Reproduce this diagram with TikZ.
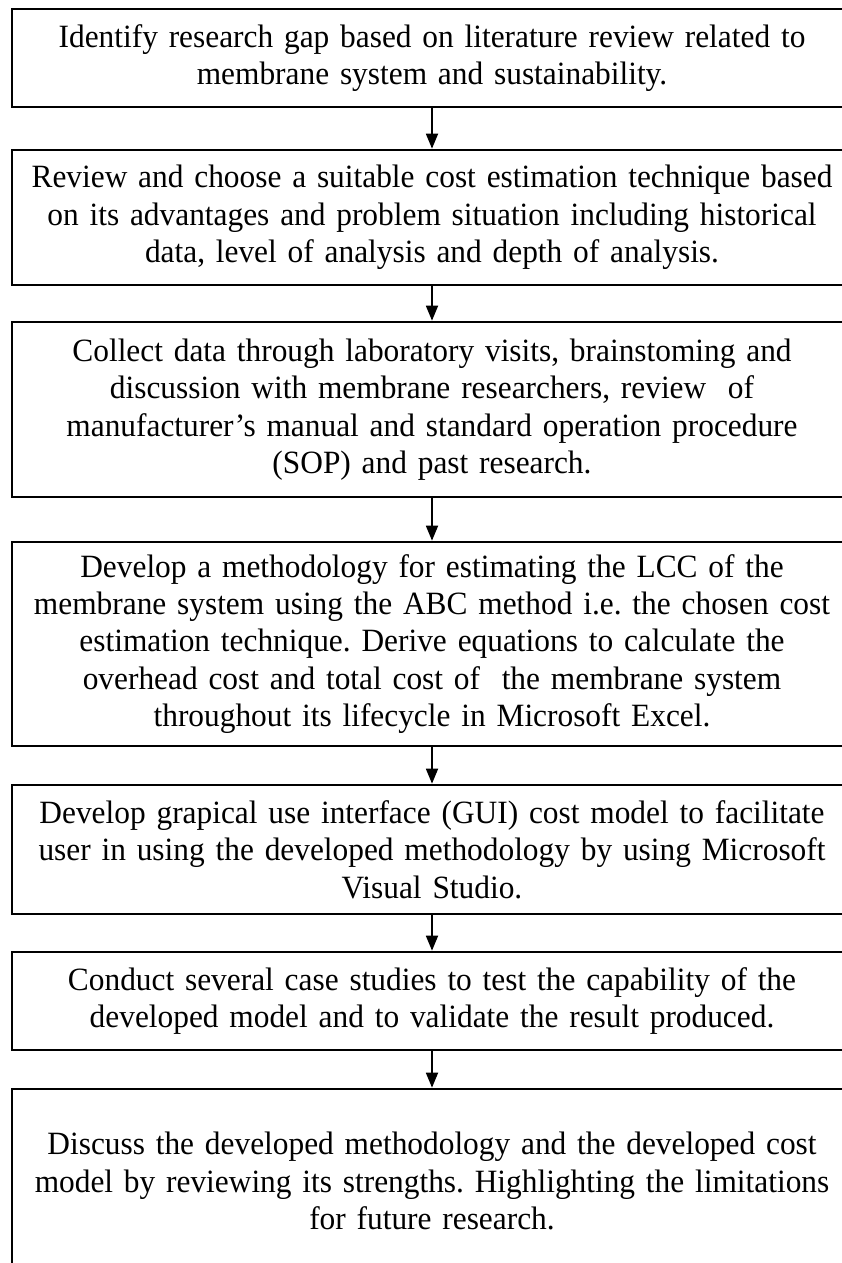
\documentclass[tikz,border=0pt]{standalone}
\usepackage{fontspec}
\setmainfont{Liberation Serif}[FakeStretch=0.965]
\usetikzlibrary{arrows.meta}
\frenchspacing
\tikzset{
  stepbox/.style={draw=black, line width=2.7pt, rectangle, minimum width=840pt,
    inner sep=0pt, text width=836pt, align=center,
    font=\fontsize{32.5}{37.4}\selectfont},
  arr/.style={line width=1.8pt, -{Triangle[length=15pt,width=12pt]}}
}
\begin{document}
\begin{tikzpicture}[x=1pt,y=-1pt]
\clip (0,0) rectangle (842,1263);
\fill[white] (0,0) rectangle (842,1263);
\node[stepbox, minimum height=98pt] (b1) at (432,58)
  {Identify research gap based on literature review related to\\membrane system and sustainability.};
\node[stepbox, minimum height=135pt] (b2) at (432,217.5)
  {Review and choose a suitable cost estimation technique based\\on its advantages and problem situation including historical\\data, level of analysis and depth of analysis.};
\node[stepbox, minimum height=175pt] (b3) at (432,409.5)
  {Collect data through laboratory visits, brainstoming and\\discussion with membrane researchers, review\ \ of\\manufacturer’s manual and standard operation procedure\\(SOP) and past research.};
\node[stepbox, minimum height=204pt] (b4) at (432,644)
  {Develop a methodology for estimating the LCC of the\\membrane system using the ABC method i.e. the chosen cost\\estimation technique. Derive equations to calculate the\\overhead cost and total cost of\ \ the membrane system\\throughout its lifecycle in Microsoft Excel.};
\node[stepbox, minimum height=129pt] (b5) at (432,849.5)
  {Develop grapical use interface (GUI) cost model to facilitate\\user in using the developed methodology by using Microsoft\\Visual Studio.};
\node[stepbox, minimum height=98pt] (b6) at (432,1001)
  {Conduct several case studies to test the capability of the\\developed model and to validate the result produced.};
\node[stepbox, minimum height=184pt] (b7) at (432,1181)
  {Discuss the developed methodology and the developed cost\\model by reviewing its strengths. Highlighting the limitations\\for future research.};
\draw[arr] (b1) -- (b2);
\draw[arr] (b2) -- (b3);
\draw[arr] (b3) -- (b4);
\draw[arr] (b4) -- (b5);
\draw[arr] (b5) -- (b6);
\draw[arr] (b6) -- (b7);
\end{tikzpicture}
\end{document}
